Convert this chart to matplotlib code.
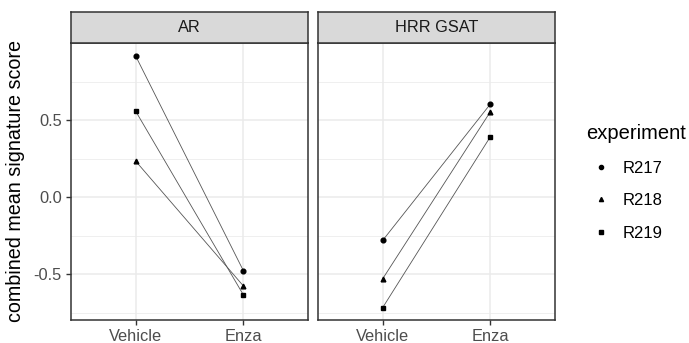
import numpy as np
import matplotlib.pyplot as plt
from matplotlib.lines import Line2D

plt.rcParams['font.family'] = ['Liberation Sans', 'DejaVu Sans']

panels = ['AR', 'HRR GSAT']
conditions = ['Vehicle', 'Enza']
experiments = ['R217', 'R218', 'R219']
markers = ['o', '^', 's']

# combined mean signature score per panel, experiment -> (Vehicle, Enza)
ar_scores = {'R217': [0.916, -0.477], 'R218': [0.234, -0.576], 'R219': [0.558, -0.634]}
hrr_scores = {'R217': [-0.281, 0.604], 'R218': [-0.530, 0.554], 'R219': [-0.717, 0.392]}
all_scores = [ar_scores, hrr_scores]

yticks = [-0.5, 0.0, 0.5]
yminor = [-0.75, -0.25, 0.25, 0.75]

fig = plt.figure(figsize=(6.89, 3.43), dpi=100)

W, H = 689, 343
lefts = [71, 318]
pw = 237
top, bottom = 43, 320
strip_h = 31

for i, (name, scores) in enumerate(zip(panels, all_scores)):
    ax = fig.add_axes([lefts[i] / W, 1 - bottom / H, pw / W, (bottom - top) / H])
    ax.set_facecolor('white')
    ax.set_xlim(0.4, 2.6)
    ax.set_ylim(-0.797, 1.0)
    for y in yticks:
        ax.axhline(y, color='#EBEBEB', lw=1.1, zorder=0)
    for y in yminor:
        ax.axhline(y, color='#EBEBEB', lw=0.55, zorder=0)
    for x in [1, 2]:
        ax.axvline(x, color='#EBEBEB', lw=1.1, zorder=0)

    xs = np.arange(1, len(conditions) + 1)
    for exp, mk in zip(experiments, markers):
        ax.plot(xs, scores[exp], color='#555555', lw=0.6, zorder=2)
        ax.plot(xs, scores[exp], ls='none', marker=mk, ms=3.4, color='black', zorder=3)

    ax.set_xticks(xs)
    ax.set_xticklabels(conditions)
    ax.set_yticks(yticks)
    ax.set_yticklabels(['-0.5', '0.0', '0.5'])
    ax.tick_params(colors='#333333', labelcolor='#4D4D4D', labelsize=11.8,
                   length=3.5, width=1, pad=3)
    if i > 0:
        ax.tick_params(axis='y', left=False, labelleft=False)
    else:
        ax.set_ylabel('combined mean signature score', fontsize=14.2, labelpad=6)
    for s in ax.spines.values():
        s.set_color('#333333')
        s.set_linewidth(1.1)

    sax = fig.add_axes([lefts[i] / W, 1 - top / H, pw / W, strip_h / H])
    sax.set_xticks([])
    sax.set_yticks([])
    sax.set_facecolor('#D9D9D9')
    for s in sax.spines.values():
        s.set_color('#333333')
        s.set_linewidth(1.1)
    sax.text(0.5, 0.5, name, ha='center', va='center', fontsize=11.8,
             color='#1A1A1A', transform=sax.transAxes)

handles = [Line2D([], [], ls='none', marker=mk, ms=3.0, color='black')
           for mk in markers]
leg = fig.legend(handles, experiments, title='experiment', loc='upper left',
                 bbox_to_anchor=(571 / W, 1 - 109 / H), frameon=False,
                 fontsize=12, title_fontsize=14.5, handlelength=1.8,
                 handletextpad=0.4, labelspacing=1.05)
leg._legend_box.align = 'left'

fig.savefig('out.png', dpi=100)
